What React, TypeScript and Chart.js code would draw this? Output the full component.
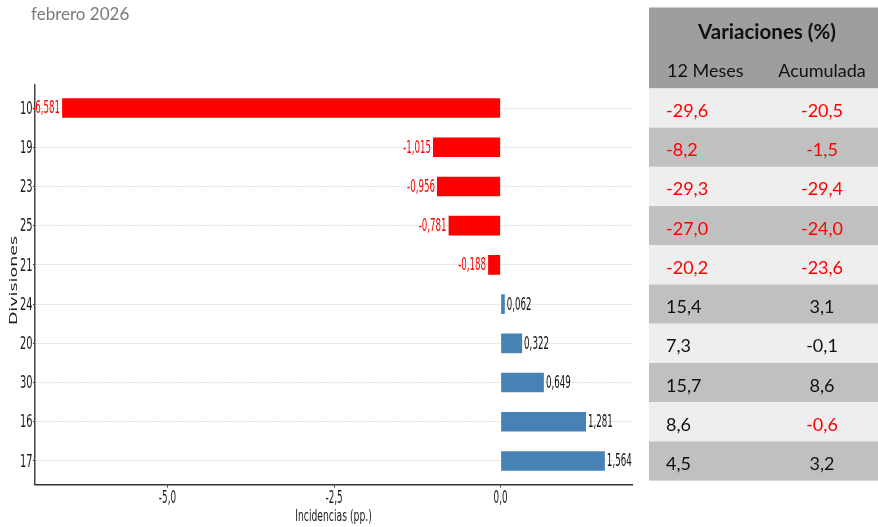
import React, { useEffect, useRef } from 'react';
import { Chart, registerables } from 'chart.js';

Chart.register(...registerables);

// ---- data ----
const categories = ['10', '19', '23', '25', '21', '24', '20', '30', '16', '17'];
const incidencias = [-6.581, -1.015, -0.956, -0.781, -0.188, 0.062, 0.322, 0.649, 1.281, 1.564];
const var12Meses = [-29.6, -8.2, -29.3, -27.0, -20.2, 15.4, 7.3, 15.7, 8.6, 4.5];
const varAcumulada = [-20.5, -1.5, -29.4, -24.0, -23.6, 3.1, -0.1, 8.6, -0.6, 3.2];
const xTickValues = [-5, -2.5, 0];
const titleText = 'febrero 2026';
const xAxisTitle = 'Incidencias (pp.)';
const yAxisTitle = 'Divisiones';
const tableTitle = 'Variaciones (%)';
const tableColumns = ['12 Meses', 'Acumulada'];

const W = 878;
const H = 527;
const RED = '#ff0000';
const BLUE = '#4682b4';
const AXIS_FONT = '"DejaVu Sans"';
const TABLE_FONT = 'Lato';

const fmt = (v: number, d: number) => v.toFixed(d).replace('.', ',');
const isRed = (v: number) => v < -0.1;

function drawText(
  ctx: CanvasRenderingContext2D,
  s: string,
  x: number,
  y: number,
  o: { font: string; color: string; align?: CanvasTextAlign; baseline?: CanvasTextBaseline; sx?: number; sy?: number; rotate?: number }
) {
  ctx.save();
  ctx.translate(x, y);
  if (o.rotate) ctx.rotate(o.rotate);
  ctx.scale(o.sx ?? 1, o.sy ?? 1);
  ctx.font = o.font;
  ctx.fillStyle = o.color;
  ctx.textAlign = o.align ?? 'left';
  ctx.textBaseline = o.baseline ?? 'middle';
  ctx.fillText(s, 0, 0);
  ctx.restore();
}

const customPlugin = {
  id: 'customDraw',
  afterDatasetsDraw(chart: any) {
    const ctx: CanvasRenderingContext2D = chart.ctx;
    const xs = chart.scales.x;
    const ys = chart.scales.y;
    incidencias.forEach((v, i) => {
      const y = ys.getPixelForValue(i) + 1;
      const xe = xs.getPixelForValue(v);
      const neg = v < 0;
      drawText(ctx, fmt(v, 3), neg ? xe - 2 : xe + 2, y, {
        font: `17px ${AXIS_FONT}`,
        color: neg ? RED : '#111111',
        align: neg ? 'right' : 'left',
        sx: 0.51,
      });
    });
  },
  afterDraw(chart: any) {
    const ctx: CanvasRenderingContext2D = chart.ctx;
    const xs = chart.scales.x;
    const ys = chart.scales.y;
    const area = chart.chartArea;

    // title
    drawText(ctx, titleText, 31, 19.5, {
      font: `17px ${TABLE_FONT}`,
      color: '#7a7a7a',
      baseline: 'alphabetic',
    });

    // y tick labels
    categories.forEach((c, i) => {
      drawText(ctx, c, area.left - 2.5, ys.getPixelForValue(i) + 1, {
        font: `18px ${AXIS_FONT}`,
        color: '#1a1a1a',
        align: 'right',
        sx: 0.55,
      });
    });

    // x tick labels
    xTickValues.forEach((v) => {
      drawText(ctx, fmt(v, 1), xs.getPixelForValue(v), area.bottom + 14, {
        font: `17px ${AXIS_FONT}`,
        color: '#1a1a1a',
        align: 'center',
        sx: 0.52,
      });
    });

    // axis titles
    drawText(ctx, xAxisTitle, (area.left + area.right) / 2, area.bottom + 32.5, {
      font: `16.5px ${AXIS_FONT}`,
      color: '#1a1a1a',
      align: 'center',
      sx: 0.56,
    });
    drawText(ctx, yAxisTitle, 14, (area.top + area.bottom) / 2 - 4, {
      font: `17.5px ${AXIS_FONT}`,
      color: '#1a1a1a',
      align: 'center',
      rotate: -Math.PI / 2,
      sy: 0.62,
    });

    // table
    const tx0 = 649;
    const tx1 = W;
    const headerTop = 7.5;
    const headerBottom = ys.getPixelForValue(-0.5);
    ctx.save();
    ctx.fillStyle = '#9e9e9e';
    ctx.fillRect(tx0, headerTop, tx1 - tx0, headerBottom - headerTop);
    categories.forEach((_, i) => {
      const t = ys.getPixelForValue(i - 0.5);
      const b = ys.getPixelForValue(i + 0.5);
      ctx.fillStyle = i % 2 === 0 ? '#eeeeee' : '#c0c0c0';
      ctx.fillRect(tx0, t, tx1 - tx0, b - t);
    });
    ctx.restore();

    const col1X = 666;
    const col2X = 822;
    drawText(ctx, tableTitle, 767, 39.3, {
      font: `bold 20.5px ${TABLE_FONT}`,
      color: '#111111',
      align: 'center',
      baseline: 'alphabetic',
    });
    drawText(ctx, tableColumns[0], col1X + 1, 77.3, {
      font: `18px ${TABLE_FONT}`,
      color: '#111111',
      align: 'left',
      baseline: 'alphabetic',
    });
    drawText(ctx, tableColumns[1], col2X, 77.3, {
      font: `18px ${TABLE_FONT}`,
      color: '#111111',
      align: 'center',
      baseline: 'alphabetic',
    });
    categories.forEach((_, i) => {
      const yb = ys.getPixelForValue(i) + 9;
      const a = var12Meses[i];
      const b = varAcumulada[i];
      drawText(ctx, fmt(a, 1), col1X, yb, {
        font: `18px ${TABLE_FONT}`,
        color: isRed(a) ? RED : '#111111',
        align: 'left',
        baseline: 'alphabetic',
      });
      drawText(ctx, fmt(b, 1), col2X, yb, {
        font: `18px ${TABLE_FONT}`,
        color: isRed(b) ? RED : '#111111',
        align: 'center',
        baseline: 'alphabetic',
      });
    });
  },
};

export default function App() {
  const ref = useRef<HTMLCanvasElement | null>(null);

  useEffect(() => {
    if (!ref.current) return;
    const chart = new Chart(ref.current, {
      type: 'bar',
      data: {
        datasets: [
          {
            data: incidencias.map((v, i) => ({ x: v, y: i })) as any,
            backgroundColor: incidencias.map((v) => (v < 0 ? RED : BLUE)),
            borderWidth: 0,
            barPercentage: 0.5,
            categoryPercentage: 1,
          },
        ],
      },
      options: {
        indexAxis: 'y',
        responsive: false,
        animation: false,
        devicePixelRatio: 1,
        events: [],
        layout: { padding: { left: 0, top: 84.5, right: W - 632, bottom: 0 } },
        plugins: {
          legend: { display: false },
          title: { display: false },
          tooltip: { enabled: false },
        },
        scales: {
          x: {
            type: 'linear',
            position: 'bottom',
            min: -6.9883,
            max: 1.9713,
            offset: false,
            afterBuildTicks: (s: any) => {
              s.ticks = xTickValues.map((v) => ({ value: v }));
            },
            afterFit: (s: any) => {
              s.height = 42.5;
            },
            ticks: { display: false },
            grid: {
              offset: false,
              drawOnChartArea: false,
              drawTicks: true,
              tickLength: 3,
              tickColor: '#333333',
              tickWidth: 1,
            },
            border: { display: true, color: '#333333', width: 1.5 },
          },
          y: {
            type: 'linear',
            position: 'left',
            reverse: true,
            offset: false,
            min: -0.6,
            max: 9.6,
            afterBuildTicks: (s: any) => {
              s.ticks = categories.map((_, i) => ({ value: i }));
            },
            afterFit: (s: any) => {
              s.width = 35;
            },
            ticks: { display: false },
            grid: {
              offset: false,
              color: '#bdbdbd',
              lineWidth: 1,
              drawTicks: true,
              tickLength: 2,
              tickColor: '#333333',
              tickWidth: 1,
              tickBorderDash: [],
            },
            border: { display: true, color: '#444444', width: 1.5, dash: [1, 2] },
          },
        },
      } as any,
      plugins: [customPlugin],
    });
    return () => chart.destroy();
  }, []);

  return (
    <div style={{ position: 'absolute', left: 0, top: 0, width: W, height: H }}>
      <canvas ref={ref} width={W} height={H} style={{ display: 'block', width: W, height: H }} />
    </div>
  );
}
